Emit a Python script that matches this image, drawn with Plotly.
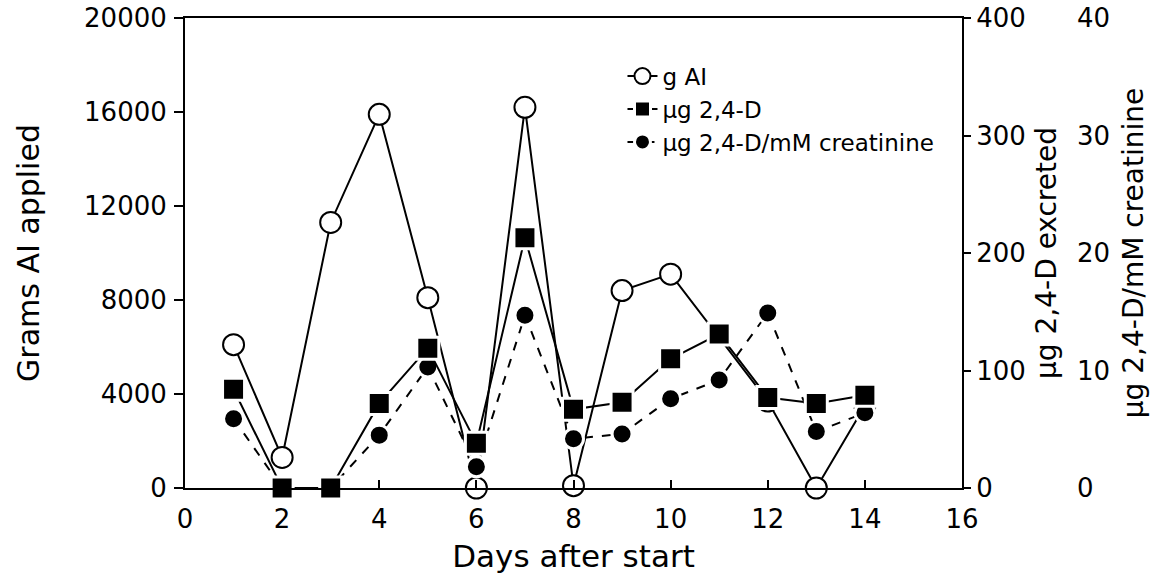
import plotly.graph_objects as go

# ---- data ----
days = [1, 2, 3, 4, 5, 6, 7, 8, 9, 10, 11, 12, 13, 14]
g_ai = [6100, 1300, 11300, 15900, 8100, 0, 16200, 100, 8400, 9100, None, 3700, 0, 3500]
ug_24d = [84, 0, 0, 72, 119, 38, 213, 67, 73, 110, 131, 77, 72, 79]
ug_per_creat = [5.9, 0, 0, 4.5, 10.3, 1.8, 14.7, 4.2, 4.6, 7.6, 9.2, 14.9, 4.8, 6.4]

x_ticks = [0, 2, 4, 6, 8, 10, 12, 14, 16]
left_ticks = [0, 4000, 8000, 12000, 16000, 20000]
excr_ticks = [0, 100, 200, 300, 400]
creat_ticks = [0, 10, 20, 30, 40]

FONT = "DejaVu Sans"
BLACK = "black"

fig = go.Figure()

fig.add_trace(go.Scatter(
    x=days, y=g_ai, name="g AI", mode="lines+markers", connectgaps=True,
    yaxis="y", cliponaxis=False,
    line=dict(color=BLACK, width=2),
    marker=dict(symbol="circle", size=21, color="white",
                line=dict(color=BLACK, width=2)),
))
fig.add_trace(go.Scatter(
    x=days, y=ug_24d, name="µg 2,4-D", mode="lines+markers",
    yaxis="y3", cliponaxis=False,
    line=dict(color=BLACK, width=2),
    marker=dict(symbol="square", size=22, color=BLACK,
                line=dict(color="white", width=3)),
))
fig.add_trace(go.Scatter(
    x=days, y=ug_per_creat, name="µg 2,4-D/mM creatinine", mode="lines+markers",
    yaxis="y2", cliponaxis=False,
    line=dict(color=BLACK, width=2, dash="dash"),
    marker=dict(symbol="circle", size=20, color=BLACK,
                line=dict(color="white", width=3)),
))

axis_common = dict(
    showgrid=False, zeroline=False, showline=True, automargin=False,
    linecolor=BLACK, linewidth=2, tickcolor=BLACK, tickwidth=2,
    tickfont=dict(family=FONT, size=26, color=BLACK),
)

fig.update_layout(
    template="none",
    width=1164, height=584,
    margin=dict(l=185, r=88, t=18, b=96),
    paper_bgcolor="white", plot_bgcolor="white",
    font=dict(family=FONT, color=BLACK),
    showlegend=True,
    legend=dict(
        x=0.491, xanchor="left", y=0.922, yanchor="top",
        bgcolor="rgba(0,0,0,0)", borderwidth=0,
        font=dict(family=FONT, size=23, color=BLACK),
        tracegroupgap=0,
    ),
    xaxis=dict(
        **axis_common,
        domain=[0, 777 / 891], range=[0, 16],
        tickmode="array", tickvals=x_ticks, ticktext=[str(v) for v in x_ticks],
        ticks="inside", ticklen=8, ticklabelstandoff=7, mirror=True,
        title=dict(text="Days after start", font=dict(family=FONT, size=31, color=BLACK),
                   standoff=12),
    ),
    yaxis=dict(
        **axis_common,
        range=[0, 20000],
        tickmode="array", tickvals=left_ticks, ticktext=[str(v) for v in left_ticks],
        ticks="outside", ticklen=9, ticklabelstandoff=2,
        title=dict(text="Grams AI applied", font=dict(family=FONT, size=30, color=BLACK),
                   standoff=36),
    ),
    yaxis3=dict(
        **axis_common,
        overlaying="y", side="right", anchor="x",
        range=[0, 400],
        tickmode="array", tickvals=excr_ticks, ticktext=[str(v) for v in excr_ticks],
        ticks="outside", ticklen=7, ticklabelstandoff=0,
        title=dict(text="µg 2,4-D excreted", font=dict(family=FONT, size=28, color=BLACK),
                   standoff=12),
    ),
    yaxis2=dict(
        showgrid=False, zeroline=False, showline=False, automargin=False,
        tickfont=dict(family=FONT, size=26, color=BLACK),
        overlaying="y", side="right", anchor="free", position=1.0,
        range=[0, 40],
        tickmode="array", tickvals=creat_ticks, ticktext=[str(v) for v in creat_ticks],
        ticks="",
        title=dict(text="µg 2,4-D/mM creatinine", font=dict(family=FONT, size=28, color=BLACK),
                   standoff=14),
    ),
)

fig.write_html("out.html", config={"displayModeBar": False},
               post_script="document.body.style.margin='0';")
